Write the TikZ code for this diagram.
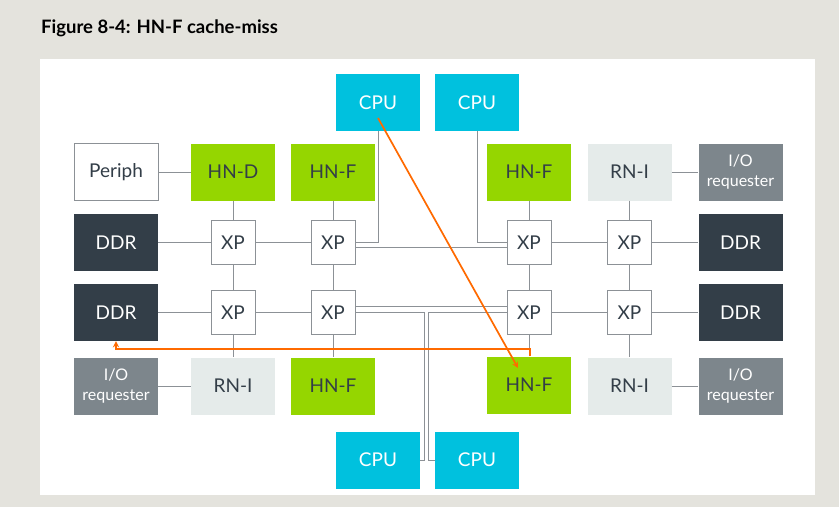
\documentclass[tikz,border=0pt]{standalone}
\usepackage{fontspec}
\setmainfont{Lato}
\definecolor{pagegray}{HTML}{E4E3DD}
\definecolor{armcyan}{HTML}{00C1DE}
\definecolor{armgreen}{HTML}{95D600}
\definecolor{armdark}{HTML}{333E48}
\definecolor{armlight}{HTML}{E5EBEA}
\definecolor{armgray}{HTML}{7D868C}
\definecolor{linegray}{HTML}{8C9196}
\definecolor{missorange}{HTML}{FF6A00}
\begin{document}
\begin{tikzpicture}[x=1pt, y=-1pt,
  box/.style={minimum width=84pt, minimum height=57pt, inner sep=0pt, font=\fontsize{19}{20}\selectfont},
  cpu/.style={box, fill=armcyan, text=white},
  home/.style={box, fill=armgreen, text=armdark},
  ddr/.style={box, fill=armdark, text=white},
  rni/.style={box, fill=armlight, text=armdark},
  iorq/.style={box, fill=armgray, text=white, align=center, font=\fontsize{16}{20}\selectfont},
  periph/.style={box, draw=linegray, line width=0.9pt, fill=white, text=armdark},
  xp/.style={periph, minimum width=44pt, minimum height=44pt},
  link/.style={draw=linegray, line width=0.9pt},
  miss/.style={color=missorange, line width=1.7pt, ->, >=stealth}]

\fill [pagegray] (0,0) rectangle (839,507);
\useasboundingbox (0,0) rectangle (839,507);
\fill [white] (40,59) rectangle (815,495);
\node [anchor=base west, inner sep=0pt, font=\fontsize{18.5}{20}\bfseries\selectfont] (title) at (41,33.5) {Figure 8-4: HN-F cache-miss};

\node [cpu] (cput1) at (378,102.5) {CPU};
\node [cpu] (cput2) at (477,102.5) {CPU};
\node [cpu] (cpub1) at (378,460) {CPU};
\node [cpu] (cpub2) at (477,460) {CPU};

\node [periph] (periph) at (116,172) {Periph};
\node [home] (hnd)   at (233,172) {HN-D};
\node [home] (hnfc1) at (333,172) {HN-F};
\node [home] (hnfd1) at (529,172) {HN-F};
\node [rni]  (rnie1) at (629.5,172) {RN-I};
\node [iorq] (ior1)  at (740.5,172) {I/O\\requester};

\node [ddr] (ddra2) at (116,242.5) {DDR};
\node [xp]  (xpb2)  at (233,242.5) {XP};
\node [xp]  (xpc2)  at (333,242.5) {XP};
\node [xp]  (xpd2)  at (529,242.5) {XP};
\node [xp]  (xpe2)  at (629.5,242.5) {XP};
\node [ddr] (ddrf2) at (740.5,242.5) {DDR};

\node [ddr] (ddra3) at (116,312.5) {DDR};
\node [xp]  (xpb3)  at (233,312.5) {XP};
\node [xp]  (xpc3)  at (333,312.5) {XP};
\node [xp]  (xpd3)  at (529,312.5) {XP};
\node [xp]  (xpe3)  at (629.5,312.5) {XP};
\node [ddr] (ddrf3) at (740.5,312.5) {DDR};

\node [iorq] (iol4)  at (116,386) {I/O\\requester};
\node [rni]  (rnib4) at (233,386) {RN-I};
\node [home] (hnfc4) at (333,386) {HN-F};
\node [home] (hnfd4) at (529,385) {HN-F};
\node [rni]  (rnie4) at (629.5,386) {RN-I};
\node [iorq] (ior4)  at (740.5,386) {I/O\\requester};

\begin{scope}[link]
\draw (periph) -- (hnd);
\draw (hnd) -- (xpb2);
\draw (ddra2) -- (xpb2);
\draw (xpb2) -- (xpc2);
\draw (xpb2) -- (xpb3);
\draw (ddra3) -- (xpb3);
\draw (xpb3) -- (xpc3);
\draw (xpb3) -- (rnib4);
\draw (iol4) -- (rnib4);

\draw (hnfc1) -- (xpc2);
\draw (xpc2) -- (xpc3);
\draw (xpc3) -- (hnfc4);

\draw (cput1) |- (xpc2);
\draw (cput2) |- (xpd2);
\draw ([yshift=-5pt]xpc2.east) -- ([yshift=-5pt]xpd2.west);
\draw ([yshift=6pt]xpc3.east) -- ([yshift=6pt]xpd3.west);
\draw (xpc3) -| ([xshift=4pt]cpub1.east) -- (cpub1);
\draw (xpd3) -| ([xshift=-6pt]cpub2.west) -- (cpub2);

\draw (hnfd1) -- (xpd2);
\draw (xpd2) -- (xpd3);
\draw (xpd3) -- (hnfd4);
\draw (xpd2) -- (xpe2);
\draw (xpd3) -- (xpe3);

\draw (rnie1) -- (ior1);
\draw (rnie1) -- (xpe2);
\draw (xpe2) -- (ddrf2);
\draw (xpe2) -- (xpe3);
\draw (xpe3) -- (ddrf3);
\draw (xpe3) -- (rnie4);
\draw (rnie4) -- (ior4);
\end{scope}

\begin{scope}[miss]
\draw ([yshift=-15.5pt]cput1.center) -- ([xshift=-11pt,yshift=17pt]hnfd4.center);
\draw ([xshift=1pt]hnfd4.north) |- ([yshift=-8pt]ddra3.south) -- (ddra3.south);
\end{scope}

\end{tikzpicture}
\end{document}
